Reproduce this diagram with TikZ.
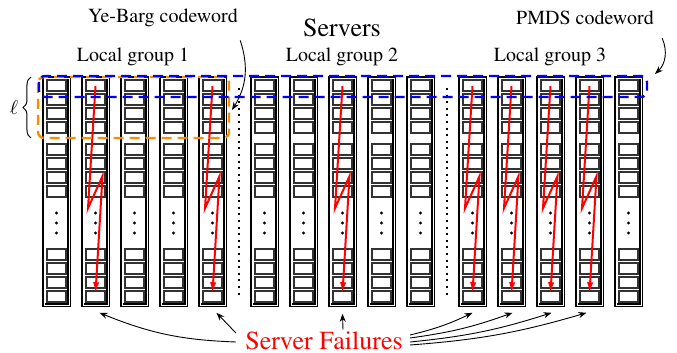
\documentclass[tikz,border=0pt]{standalone}
\usepackage[T1]{fontenc}
\usepackage{mathptmx}
\usepackage{amsmath}
\usepackage{xcolor}
\usetikzlibrary{arrows.meta, positioning, decorations.pathreplacing}
\definecolor{YB_Orange}{HTML}{FF8C00}
\definecolor{PMDS_Blue}{HTML}{0000FF}

\begin{document}
\begin{tikzpicture}[x=0.5pt, y=-0.5pt,
    server/.style={draw, double, line width=0.7pt, double distance=0.2pt,
        minimum width=12.6pt, minimum height=113.6pt, inner sep=0pt},
    cell/.style={draw=black!80, line width=0.6pt},
    fail/.style={red, line width=1pt, -{Latex[length=5.5pt,width=3.2pt]}},
    note/.style={-{Stealth[length=4pt,width=3pt]}, line width=0.45pt},
    lbl/.style={font=\fontsize{10}{12}\selectfont, inner sep=1pt},
    big/.style={font=\fontsize{13}{15}\selectfont, inner sep=1pt}]
    \useasboundingbox (0,0) rectangle (677,353);

    % Servers - three local groups of five
    \foreach \g in {0,1,2} {
        \foreach \i in {0,...,4} {
            \pgfmathsetmacro\cx{56.5+39*\i+208*\g}
            \pgfmathtruncatemacro\n{5*\g+\i+1}
            \node[server] (s\n) at (\cx, 191.5) {};
            \foreach \t in {80,94,108,122,144,158,172,186,249,263,277,291} {
                \draw[cell] (\cx-9.5, \t) rectangle ++(19, 11);
            }
            \foreach \d in {213,223,233} {
                \fill (\cx, \d) circle (0.8pt);
            }
        }
    }

    % Dots between groups
    \draw[line width=1pt, dash pattern=on 1pt off 2.3pt] (239, 88) -- (239, 298);
    \draw[line width=1pt, dash pattern=on 1pt off 2.3pt] (447, 88) -- (447, 298);

    % Failed servers
    \foreach \n in {2,5,8,11,12,13,14} {
        \draw[fail] ([shift={(0,9)}]s\n.north) -- ([shift={(-7.5,131)}]s\n.north)
            -- ([shift={(7,99)}]s\n.north) -- ([shift={(0,216)}]s\n.north);
    }

    % Ye-Barg codeword boundary
    \draw[YB_Orange, line width=1.2pt, dash pattern=on 5pt off 3pt, rounded corners=3pt]
        (38, 77) rectangle (229, 138);

    % PMDS codeword boundary
    \draw[PMDS_Blue, line width=1.2pt, dash pattern=on 5pt off 3pt, rounded corners=3pt]
        (39, 76) rectangle (647, 97);

    % Labels
    \node[lbl] (yb) at (163, 18) {Ye-Barg codeword};
    \node[big] (servers) at (342, 28) {Servers};
    \node[lbl] (pmds) at (585, 18) {PMDS codeword};
    \node[lbl] (lg1) at (133, 57) {Local group 1};
    \node[lbl] (lg2) at (342, 57) {Local group 2};
    \node[lbl] (lg3) at (550, 57) {Local group 3};

    \coordinate (ybend) at (232, 110);
    \coordinate (pmdsend) at (655, 74);
    \draw[note] ([shift={(0,11)}]yb.south east) to[bend left=25] (ybend);
    \draw[note] ([shift={(6,11)}]pmds.south east) to[bend left=35] (pmdsend);

    % Row brace
    \draw[decorate, decoration={brace, amplitude=4pt}, line width=0.5pt] (31, 138) -- (31, 77);
    \node[lbl] (ell) at (14, 108) {$\ell$};

    % Server failures
    \node[big, text=red] (sf) at (324, 341) {Server Failures};
    \draw[note] ([shift={(-7,1)}]sf.west) to[bend left=10] ([shift={(4,7)}]s2.south);
    \draw[note] ([shift={(-7,-8)}]sf.west) -- ([shift={(4,7)}]s5.south);
    \draw[note] ([shift={(19,0)}]sf.north) -- ([shift={(0,8)}]s8.south);
    \draw[note] ([shift={(5,-6)}]sf.east) to[bend right=6] ([shift={(0,7)}]s11.south);
    \draw[note] ([shift={(5,-3)}]sf.east) to[bend right=6] ([shift={(1,7)}]s12.south);
    \draw[note] ([shift={(5,1)}]sf.east) to[bend right=6] ([shift={(1,7)}]s13.south);
    \draw[note] ([shift={(5,4)}]sf.east) to[bend right=6] ([shift={(-3,7)}]s14.south);
\end{tikzpicture}
\end{document}
